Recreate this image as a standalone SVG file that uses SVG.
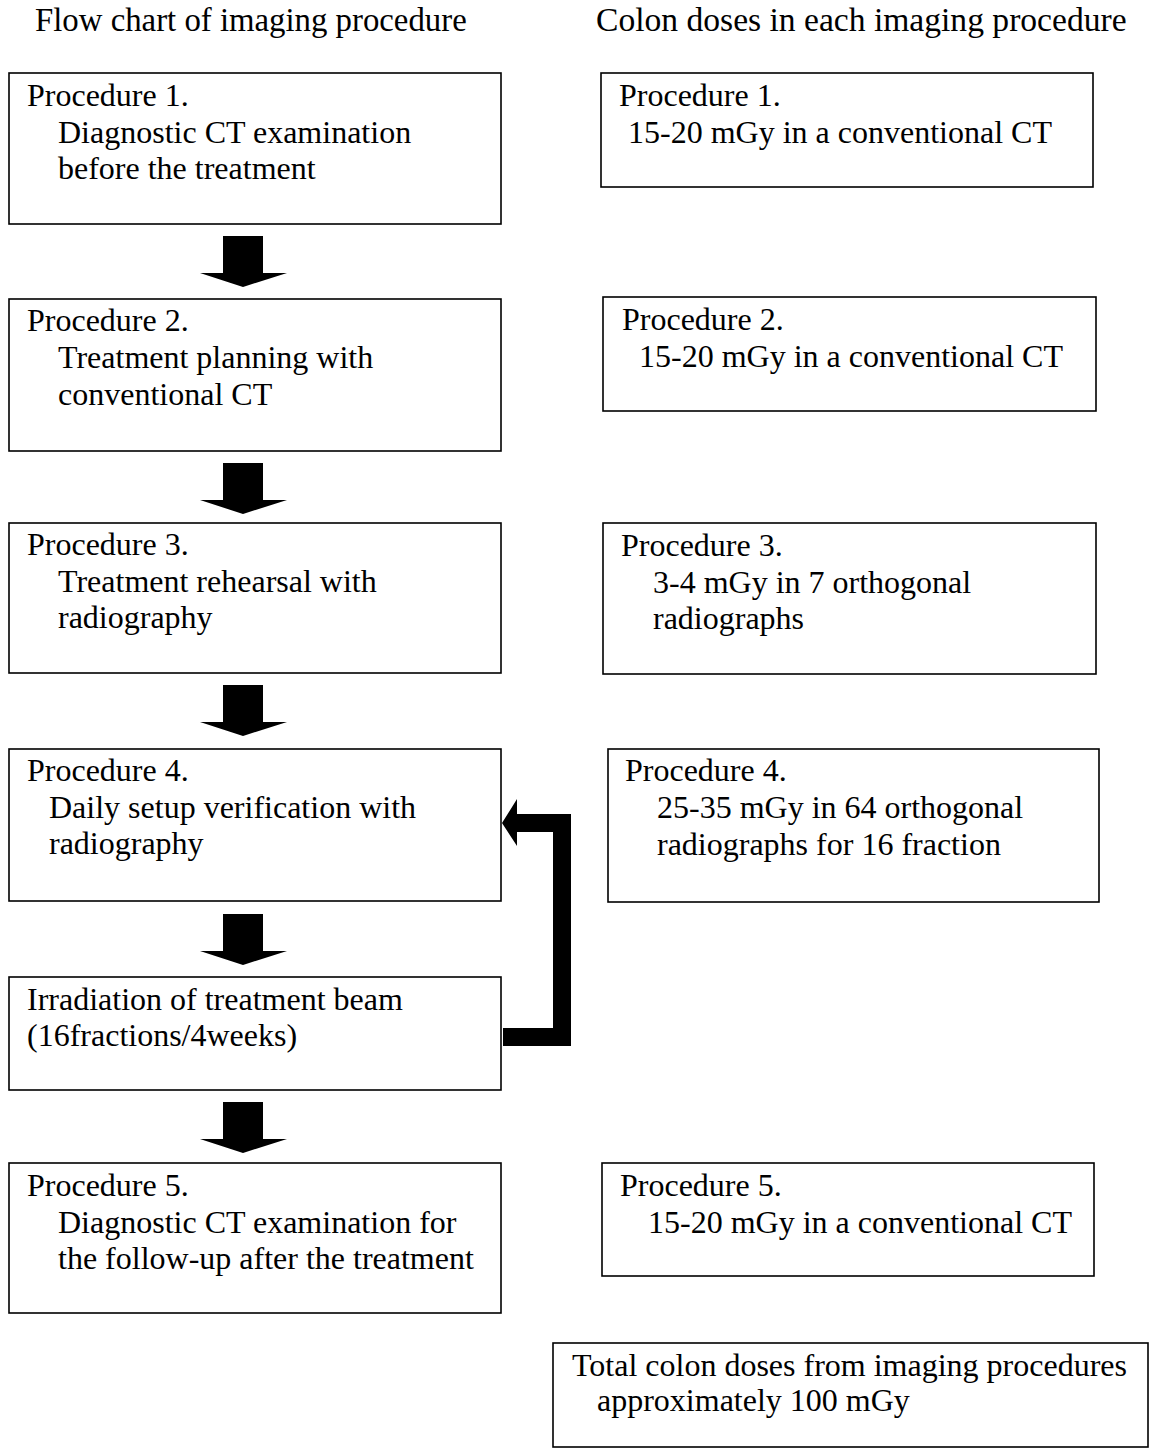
<svg xmlns="http://www.w3.org/2000/svg" width="1149" height="1455" viewBox="0 0 1149 1455">
<style>
text{font-family:"Liberation Serif","Times New Roman",serif;font-size:32px;fill:#000}
.title{font-size:32.8px}
.title2{font-size:33.6px}
.box{fill:#fff;stroke:#000;stroke-width:1.6}
.arr{fill:#000;stroke:none}
</style>
<defs>
<path id="down" d="M223,0 H263 V37 H287 L243,51 L200,37 H223 Z"/>
</defs>
<rect width="1149" height="1455" fill="#fff"/>
<text class="title" x="35" y="31">Flow chart of imaging procedure</text>
<text class="title2" x="596" y="31">Colon doses in each imaging procedure</text>

<g id="node-p1">
<rect class="box" x="9" y="73" width="492" height="151"/>
<text x="27" y="106">Procedure 1.</text>
<text x="58" y="143">Diagnostic CT examination</text>
<text x="58" y="179">before the treatment</text>
</g>
<g id="node-p2">
<rect class="box" x="9" y="299" width="492" height="152"/>
<text x="27" y="331">Procedure 2.</text>
<text x="58" y="368">Treatment planning with</text>
<text x="58" y="405">conventional CT</text>
</g>
<g id="node-p3">
<rect class="box" x="9" y="523" width="492" height="150"/>
<text x="27" y="555">Procedure 3.</text>
<text x="58" y="592">Treatment rehearsal with</text>
<text x="58" y="628">radiography</text>
</g>
<g id="node-p4">
<rect class="box" x="9" y="749" width="492" height="152"/>
<text x="27" y="781">Procedure 4.</text>
<text x="49" y="818">Daily setup verification with</text>
<text x="49" y="854">radiography</text>
</g>
<g id="node-irr">
<rect class="box" x="9" y="977" width="492" height="113"/>
<text x="27" y="1010">Irradiation of treatment beam</text>
<text x="27" y="1046">(16fractions/4weeks)</text>
</g>
<g id="node-p5">
<rect class="box" x="9" y="1163" width="492" height="150"/>
<text x="27" y="1196">Procedure 5.</text>
<text x="58" y="1233">Diagnostic CT examination for</text>
<text x="58" y="1269">the follow-up after the treatment</text>
</g>

<g id="node-d1">
<rect class="box" x="601" y="73" width="492" height="114"/>
<text x="619" y="106">Procedure 1.</text>
<text x="628" y="143">15-20 mGy in a conventional CT</text>
</g>
<g id="node-d2">
<rect class="box" x="603" y="297" width="493" height="114"/>
<text x="622" y="330">Procedure 2.</text>
<text x="639" y="367">15-20 mGy in a conventional CT</text>
</g>
<g id="node-d3">
<rect class="box" x="603" y="523" width="493" height="151"/>
<text x="621" y="556">Procedure 3.</text>
<text x="653" y="593">3-4 mGy in 7 orthogonal</text>
<text x="653" y="629">radiographs</text>
</g>
<g id="node-d4">
<rect class="box" x="608" y="749" width="491" height="153"/>
<text x="625" y="781">Procedure 4.</text>
<text x="657" y="818">25-35 mGy in 64 orthogonal</text>
<text x="657" y="855">radiographs for 16 fraction</text>
</g>
<g id="node-d5">
<rect class="box" x="602" y="1163" width="492" height="113"/>
<text x="620" y="1196">Procedure 5.</text>
<text x="648" y="1233">15-20 mGy in a conventional CT</text>
</g>
<g id="node-total">
<rect class="box" x="553" y="1343" width="595" height="104"/>
<text x="572" y="1376">Total colon doses from imaging procedures</text>
<text x="597" y="1411">approximately 100 mGy</text>
</g>

<g id="connectors">
<use href="#down" class="arr" y="236"/>
<use href="#down" class="arr" y="463"/>
<use href="#down" class="arr" y="685"/>
<use href="#down" class="arr" y="914"/>
<use href="#down" class="arr" y="1102"/>
<path class="arr" d="M503,1028 H553 V832 H517 V846 L502,823 L517,799 V814 H571 V1046 H503 Z"/>
</g>
</svg>
